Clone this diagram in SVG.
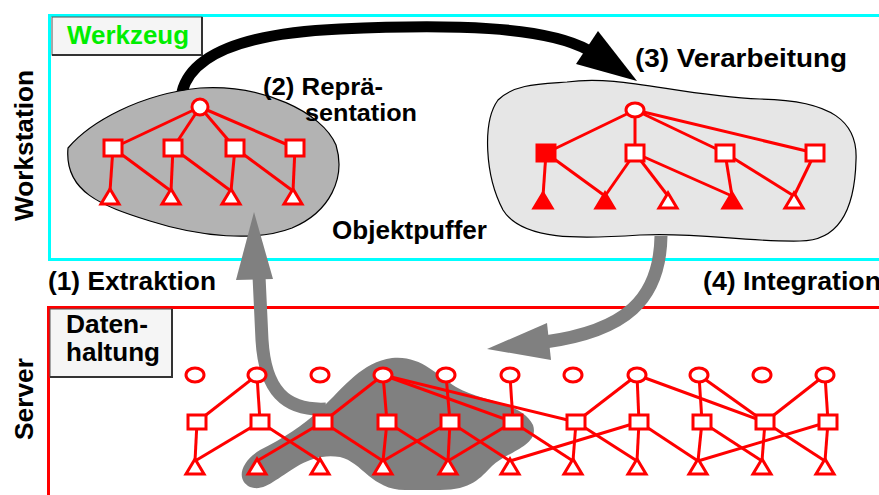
<svg xmlns="http://www.w3.org/2000/svg" xmlns:xlink="http://www.w3.org/1999/xlink" width="879" height="495" viewBox="0 0 879 495">
<style>
  .t{font-family:"Liberation Sans",Arial,Helvetica,sans-serif;font-weight:bold;font-size:26px;fill:#000}
  .t2{font-size:23px}
  .e{stroke:#ff0000;stroke-width:3;fill:none}
  .o{fill:#ffffff;stroke:#ff0000;stroke-width:3}
  .f{fill:#ff0000;stroke:#ff0000;stroke-width:3}
  .lbl{fill:#f5f5f5;stroke:#555;stroke-width:1}
  .sh{fill:none;stroke:#333;stroke-width:2}
  .blob{stroke:#000;stroke-width:1.2}
</style>
<defs>
  <rect id="sq" x="-9" y="-7" width="18" height="14"/>
  <rect id="sqb" x="-9" y="-8" width="18" height="16"/>
  <polygon id="tri" points="0,-15 -9,0 9,0"/>
  <ellipse id="cir" cx="0" cy="0" rx="9" ry="7"/>
</defs>

<g id="workstation">
  <rect x="49.5" y="15.5" width="860" height="244" fill="none" stroke="#00ffff" stroke-width="3"/>
  <text class="t" transform="translate(33,221) rotate(-90)" textLength="151" lengthAdjust="spacingAndGlyphs">Workstation</text>
</g>
<g id="server">
  <rect x="48.5" y="307.5" width="860" height="220" fill="none" stroke="#ff0000" stroke-width="3"/>
  <text class="t" transform="translate(33,440) rotate(-90)" textLength="82" lengthAdjust="spacingAndGlyphs">Server</text>
</g>

<g id="werkzeug">
  <rect class="lbl" x="52" y="17" width="150" height="38"/>
  <polyline class="sh" points="202,17 202,55 52,55"/>
  <text class="t" x="67" y="44" style="fill:#00ee00" textLength="122" lengthAdjust="spacingAndGlyphs">Werkzeug</text>
</g>
<g id="datenhaltung">
  <rect class="lbl" x="50" y="309" width="122" height="68"/>
  <polyline class="sh" points="172,309 172,377 50,377"/>
  <text class="t" x="66" y="333" textLength="82" lengthAdjust="spacingAndGlyphs">Daten-</text>
  <text class="t" x="66" y="361" textLength="94" lengthAdjust="spacingAndGlyphs">haltung</text>
</g>

<g id="connectors">
  <path id="arrow-verarbeitung" d="M 182,92 C 192,52 250,33 340,29 C 450,24 545,26 588,50" fill="none" stroke="#000" stroke-width="11"/>
  <polygon points="598,31 576,64 637,81" fill="#000"/>
</g>

<g id="objektpuffer-repr">
  <path class="blob" fill="#b3b3b3" d="M 68,148 C 90,122 140,94 200,88 C 262,84 322,112 336,145 C 346,178 330,212 292,228 C 256,242 200,237 150,221 C 102,206 64,192 68,148 Z"/>
  <g class="e">
    <line x1="200" y1="107" x2="113" y2="148"/>
    <line x1="200" y1="107" x2="173" y2="148"/>
    <line x1="200" y1="107" x2="235" y2="148"/>
    <line x1="200" y1="107" x2="295" y2="148"/>
    <line x1="113" y1="148" x2="110" y2="191"/>
    <line x1="113" y1="148" x2="171" y2="191"/>
    <line x1="173" y1="148" x2="171" y2="191"/>
    <line x1="173" y1="148" x2="231" y2="191"/>
    <line x1="235" y1="148" x2="231" y2="191"/>
    <line x1="235" y1="148" x2="293" y2="191"/>
    <line x1="295" y1="148" x2="293" y2="191"/>
  </g>
  <circle class="o" cx="200" cy="107" r="8"/>
  <use href="#sqb" x="113" y="148" class="o"/>
  <use href="#sqb" x="173" y="148" class="o"/>
  <use href="#sqb" x="235" y="148" class="o"/>
  <use href="#sqb" x="295" y="148" class="o"/>
  <use href="#tri" x="110" y="204" class="o"/>
  <use href="#tri" x="171" y="204" class="o"/>
  <use href="#tri" x="231" y="204" class="o"/>
  <use href="#tri" x="293" y="204" class="o"/>
</g>

<g id="objektpuffer-verarb">
  <path class="blob" fill="#e6e6e6" d="M 567,82 C 620,74 680,96 760,99 C 832,100 858,122 856,160 C 855,202 843,241 800,241 C 740,242 700,232 640,235 C 580,239 522,241 503,210 C 485,176 482,122 498,100 C 514,84 540,84 567,82 Z"/>
  <g class="e">
    <line x1="635" y1="110" x2="546" y2="153"/>
    <line x1="635" y1="110" x2="635" y2="153"/>
    <line x1="635" y1="110" x2="725" y2="153"/>
    <line x1="635" y1="110" x2="815" y2="153"/>
    <line x1="546" y1="153" x2="543" y2="196"/>
    <line x1="546" y1="153" x2="605" y2="196"/>
    <line x1="635" y1="153" x2="605" y2="196"/>
    <line x1="635" y1="153" x2="668" y2="196"/>
    <line x1="635" y1="153" x2="732" y2="196"/>
    <line x1="725" y1="153" x2="732" y2="196"/>
    <line x1="725" y1="153" x2="794" y2="196"/>
    <line x1="815" y1="153" x2="794" y2="196"/>
  </g>
  <use href="#cir" x="635" y="110" class="o"/>
  <use href="#sqb" x="546" y="153" class="f"/>
  <use href="#sqb" x="635" y="153" class="o"/>
  <use href="#sqb" x="725" y="153" class="o"/>
  <use href="#sqb" x="815" y="153" class="o"/>
  <use href="#tri" x="543" y="208" class="f"/>
  <use href="#tri" x="605" y="208" class="f"/>
  <use href="#tri" x="668" y="208" class="o"/>
  <use href="#tri" x="732" y="208" class="f"/>
  <use href="#tri" x="794" y="208" class="o"/>
</g>

<g id="server-extract">
  <path fill="#808080" d="M 250,487 C 236,480 240,462 260,450 C 284,438 302,426 320,410 C 345,386 362,362 392,358 C 420,355 436,374 456,387 C 482,402 522,402 533,425 C 540,446 506,452 492,466 C 480,478 472,490 440,490 L 405,490 C 372,490 362,462 340,457 C 312,452 292,470 276,480 C 266,487 258,490 250,487 Z"/>
</g>

<g id="connectors-gray">
  <path id="arrow-extraktion" d="M 326,409 C 285,411 265,390 262,340 L 259,276" fill="none" stroke="#808080" stroke-width="13"/>
  <polygon points="254,212 236,280 273,279" fill="#808080"/>
  <path id="arrow-integration" d="M 661,236 C 660,300 625,331 545,342" fill="none" stroke="#808080" stroke-width="13"/>
  <polygon points="487,349 547,323 551,360" fill="#808080"/>
</g>

<g id="server-tree">
  <g class="e">
    <line x1="257" y1="375" x2="197" y2="422"/>
    <line x1="257" y1="375" x2="260" y2="422"/>
    <line x1="383" y1="375" x2="323" y2="422"/>
    <line x1="383" y1="375" x2="387" y2="422"/>
    <line x1="383" y1="375" x2="513" y2="422"/>
    <line x1="383" y1="375" x2="576" y2="422"/>
    <line x1="446" y1="375" x2="450" y2="422"/>
    <line x1="510" y1="375" x2="513" y2="422"/>
    <line x1="637" y1="375" x2="576" y2="422"/>
    <line x1="637" y1="375" x2="639" y2="422"/>
    <line x1="637" y1="375" x2="765" y2="422"/>
    <line x1="699" y1="375" x2="702" y2="422"/>
    <line x1="699" y1="375" x2="765" y2="422"/>
    <line x1="825" y1="375" x2="765" y2="422"/>
    <line x1="825" y1="375" x2="828" y2="422"/>

    <line x1="197" y1="422" x2="195" y2="461"/>
    <line x1="260" y1="422" x2="195" y2="461"/>
    <line x1="260" y1="422" x2="320" y2="461"/>
    <line x1="323" y1="422" x2="257" y2="461"/>
    <line x1="323" y1="422" x2="383" y2="461"/>
    <line x1="387" y1="422" x2="383" y2="461"/>
    <line x1="387" y1="422" x2="448" y2="461"/>
    <line x1="450" y1="422" x2="383" y2="461"/>
    <line x1="450" y1="422" x2="448" y2="461"/>
    <line x1="450" y1="422" x2="510" y2="461"/>
    <line x1="513" y1="422" x2="448" y2="461"/>
    <line x1="513" y1="422" x2="573" y2="461"/>
    <line x1="576" y1="422" x2="573" y2="461"/>
    <line x1="576" y1="422" x2="637" y2="461"/>
    <line x1="639" y1="422" x2="637" y2="461"/>
    <line x1="639" y1="422" x2="510" y2="461"/>
    <line x1="639" y1="422" x2="698" y2="461"/>
    <line x1="702" y1="422" x2="698" y2="461"/>
    <line x1="702" y1="422" x2="762" y2="461"/>
    <line x1="765" y1="422" x2="762" y2="461"/>
    <line x1="765" y1="422" x2="825" y2="461"/>
    <line x1="828" y1="422" x2="825" y2="461"/>
    <line x1="828" y1="422" x2="698" y2="461"/>
  </g>
  <g class="o">
    <use href="#cir" x="195" y="375"/>
    <use href="#cir" x="257" y="375"/>
    <use href="#cir" x="320" y="375"/>
    <use href="#cir" x="383" y="375"/>
    <use href="#cir" x="446" y="375"/>
    <use href="#cir" x="510" y="375"/>
    <use href="#cir" x="573" y="375"/>
    <use href="#cir" x="637" y="375"/>
    <use href="#cir" x="699" y="375"/>
    <use href="#cir" x="762" y="375"/>
    <use href="#cir" x="825" y="375"/>
    <use href="#sq" x="197" y="422"/>
    <use href="#sq" x="260" y="422"/>
    <use href="#sq" x="323" y="422"/>
    <use href="#sq" x="387" y="422"/>
    <use href="#sq" x="450" y="422"/>
    <use href="#sq" x="513" y="422"/>
    <use href="#sq" x="576" y="422"/>
    <use href="#sq" x="639" y="422"/>
    <use href="#sq" x="702" y="422"/>
    <use href="#sq" x="765" y="422"/>
    <use href="#sq" x="828" y="422"/>
    <use href="#tri" x="195" y="474"/>
    <use href="#tri" x="257" y="474"/>
    <use href="#tri" x="320" y="474"/>
    <use href="#tri" x="383" y="474"/>
    <use href="#tri" x="448" y="474"/>
    <use href="#tri" x="510" y="474"/>
    <use href="#tri" x="573" y="474"/>
    <use href="#tri" x="637" y="474"/>
    <use href="#tri" x="698" y="474"/>
    <use href="#tri" x="762" y="474"/>
    <use href="#tri" x="825" y="474"/>
  </g>
</g>

<g id="labels">
  <text class="t t2" x="263" y="95" textLength="120" lengthAdjust="spacingAndGlyphs">(2) Reprä-</text>
  <text class="t t2" x="305" y="121" textLength="112" lengthAdjust="spacingAndGlyphs">sentation</text>
  <text class="t" x="635" y="67" textLength="212" lengthAdjust="spacingAndGlyphs">(3) Verarbeitung</text>
  <text class="t" x="332" y="239" textLength="155" lengthAdjust="spacingAndGlyphs">Objektpuffer</text>
  <text class="t" x="48" y="290" textLength="168" lengthAdjust="spacingAndGlyphs">(1) Extraktion</text>
  <text class="t" x="703" y="290" textLength="178" lengthAdjust="spacingAndGlyphs">(4) Integration</text>
</g>
</svg>
